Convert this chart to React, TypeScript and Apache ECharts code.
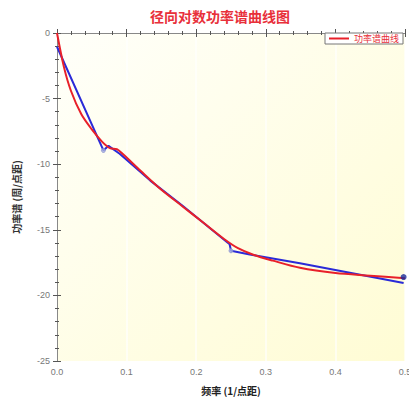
import React, { useEffect, useRef } from "react";
import * as echarts from "echarts";

const titleText = "径向对数功率谱曲线图";
const xName = "频率 (1/点距)";
const yName = "功率谱 (周/点距)";
const legendName = "功率谱曲线";

// raw spectrum (blue polyline)
const rawX = [0, 0.0667, 0.074, 0.09, 0.134, 0.18, 0.248, 0.25, 0.277, 0.349, 0.498];
const rawY = [-1.05, -8.95, -8.6, -9.2, -11.25, -13.15, -16.1, -16.6, -16.88, -17.55, -19.05];

// fitted curve (red)
const fitX = [0, 0.01, 0.02, 0.035, 0.05, 0.065, 0.076, 0.086, 0.095, 0.12, 0.15, 0.18, 0.21, 0.24, 0.26, 0.282, 0.31, 0.349, 0.4, 0.45, 0.5];
const fitY = [0, -2.6, -4.4, -6.2, -7.35, -8.3, -8.78, -8.85, -9.25, -10.5, -11.95, -13.2, -14.45, -15.7, -16.4, -16.9, -17.35, -17.9, -18.3, -18.5, -18.7];

// marked points
const markX = [0.0667, 0.25];
const markY = [-8.95, -16.6];
const endX = [0.498];
const endY = [-18.6];

const xTicks = [0, 0.1, 0.2, 0.3, 0.4, 0.5];
const yTicks = [0, -5, -10, -15, -20, -25];

export default function App() {
  const ref = useRef<HTMLDivElement>(null);
  useEffect(() => {
    if (!ref.current) return;
    const chart = echarts.init(ref.current, null, { renderer: "svg" });
    const zip = (xs: number[], ys: number[]) => xs.map((x, i) => [x, ys[i]]);
    const axisColor = "#555";
    const baseX = {
      type: "value" as const,
      min: xTicks[0],
      max: xTicks[xTicks.length - 1],
      interval: 0.1,
    };
    const baseY = {
      type: "value" as const,
      min: yTicks[yTicks.length - 1],
      max: yTicks[0],
      interval: 5,
    };
    const tickOut = { show: true, inside: false, length: 4, lineStyle: { color: axisColor } };
    const tickIn = { show: true, inside: true, length: 4, lineStyle: { color: axisColor } };
    const minorOut = { show: true, splitNumber: 5, length: 2, lineStyle: { color: axisColor } };
    const minorIn = { show: true, splitNumber: 5, length: 2, lineStyle: { color: axisColor } };
    const font = "'Liberation Sans', 'Noto Sans CJK SC', sans-serif";
    chart.setOption({
      animation: false,
      backgroundColor: "#ffffff",
      title: {
        text: titleText,
        left: 145,
        top: 4,
        textStyle: { color: "#e8303a", fontSize: 14, fontWeight: "bold", fontFamily: "'Noto Sans CJK SC', sans-serif" },
      },
      legend: {
        data: [legendName],
        left: 325,
        top: 33,
        padding: [1, 4, 1, 4],
        backgroundColor: "#ffffff",
        borderColor: "#777",
        borderWidth: 1,
        borderRadius: 0,
        itemWidth: 20,
        itemHeight: 2,
        icon: "rect",
        textStyle: { color: "#e8303a", fontSize: 9, fontFamily: "'Noto Sans CJK SC', sans-serif", padding: [0, 0, 0, 0] },
      },
      grid: {
        left: 57,
        right: 4,
        top: 33,
        bottom: 37,
        show: true,
        borderWidth: 0,
        outerBoundsMode: "none",
        backgroundColor: new echarts.graphic.LinearGradient(0, 0, 1, 1, [
          { offset: 0, color: "#fffffa" },
          { offset: 1, color: "#fffcd4" },
        ]),
      },
      xAxis: [
        {
          ...baseX,
          position: "bottom",
          name: xName,
          nameLocation: "middle",
          nameGap: 24,
          nameTextStyle: { color: "#222", fontSize: 10, fontWeight: "bold", fontFamily: "'Noto Sans CJK SC', sans-serif" },
          axisLine: { show: true, lineStyle: { color: axisColor, width: 1 } },
          axisTick: tickOut,
          minorTick: minorOut,
          axisLabel: {
            color: "#777",
            fontSize: 9,
            margin: 6,
            fontFamily: font,
            alignMaxLabel: "center",
            alignMinLabel: "center",
            hideOverlap: false,
            formatter: (v: number) => v.toFixed(1),
          },
          splitLine: { show: true, lineStyle: { color: "rgba(255,255,255,0.6)", width: 2 } },
        },
        {
          ...baseX,
          position: "bottom",
          gridIndex: 0,
          axisLine: { show: false },
          axisTick: tickIn,
          minorTick: minorIn,
          axisLabel: { show: false },
          splitLine: { show: false },
        },
        {
          ...baseX,
          position: "top",
          axisLine: { show: true, lineStyle: { color: "#888", width: 1 } },
          axisTick: tickIn,
          minorTick: minorIn,
          axisLabel: { show: false },
          splitLine: { show: false },
        },
      ],
      yAxis: [
        {
          ...baseY,
          position: "left",
          name: yName,
          nameLocation: "middle",
          nameGap: 36,
          nameRotate: 90,
          nameTextStyle: { color: "#333", fontSize: 10, fontWeight: "bold", fontFamily: "'Noto Sans CJK SC', sans-serif" },
          axisLine: { show: true, lineStyle: { color: axisColor, width: 1 } },
          axisTick: tickOut,
          minorTick: minorOut,
          axisLabel: { color: "#777", fontSize: 9, margin: 7, fontFamily: font },
          splitLine: { show: false },
        },
        {
          ...baseY,
          position: "left",
          axisLine: { show: false },
          axisTick: tickIn,
          minorTick: minorIn,
          axisLabel: { show: false },
          splitLine: { show: false },
        },
        {
          ...baseY,
          position: "right",
          axisLine: { show: true, lineStyle: { color: "#888", width: 1 } },
          axisTick: tickIn,
          minorTick: minorIn,
          axisLabel: { show: false },
          splitLine: { show: false },
        },
      ],
      series: [
        {
          name: "raw",
          type: "line",
          data: zip(rawX, rawY),
          showSymbol: false,
          symbol: "none",
          lineStyle: { color: "#2a2ad8", width: 2 },
          itemStyle: { color: "#2a2ad8" },
          z: 2,
        },
        {
          name: legendName,
          type: "line",
          data: zip(fitX, fitY),
          smooth: 0.3,
          showSymbol: false,
          symbol: "none",
          lineStyle: { color: "#e8202a", width: 2 },
          itemStyle: { color: "#e8202a" },
          z: 3,
        },
        {
          name: "marks",
          type: "scatter",
          data: zip(markX, markY),
          symbol: "circle",
          symbolSize: 4,
          itemStyle: { color: "#a8b0e0", borderColor: "#8890d0", borderWidth: 1 },
          z: 4,
        },
        {
          name: "end",
          type: "scatter",
          data: zip(endX, endY),
          symbol: "circle",
          symbolSize: 6,
          itemStyle: { color: "#1a2a9a" },
          z: 4,
        },
      ],
    });
    return () => chart.dispose();
  }, []);
  return (
    <div
      ref={ref}
      style={{ position: "fixed", left: 0, top: 0, width: 409, height: 398 }}
    />
  );
}
